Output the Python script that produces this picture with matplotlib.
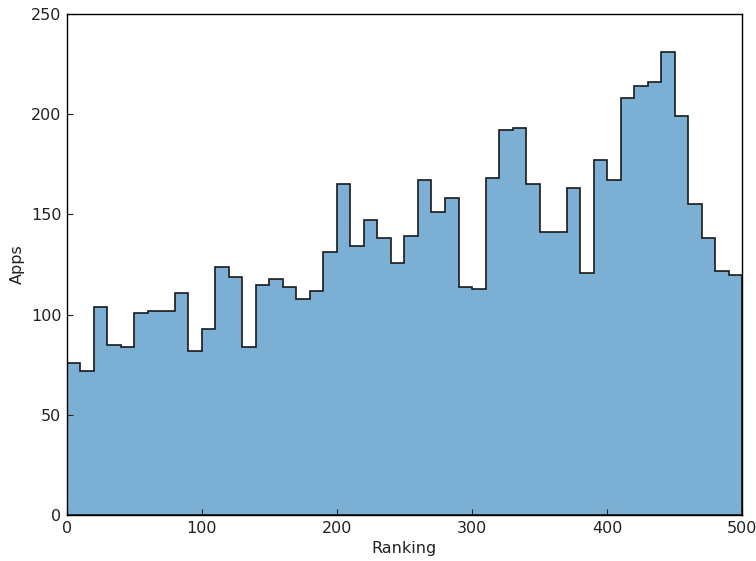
import numpy as np
import matplotlib
matplotlib.use("Agg")
import matplotlib.pyplot as plt

# Number of apps per ranking bucket (width 10, rankings 0-500)
bin_edges = list(range(0, 510, 10))
app_counts = [
    76, 72, 104, 85, 84, 101, 102, 102, 111, 82,
    93, 124, 119, 84, 115, 118, 114, 108, 112, 131,
    165, 134, 147, 138, 126, 139, 167, 151, 158, 114,
    113, 168, 192, 193, 165, 141, 141, 163, 121, 177,
    167, 208, 214, 216, 231, 199, 155, 138, 122, 120,
]
x_ticks = [0, 100, 200, 300, 400, 500]
y_ticks = [0, 50, 100, 150, 200, 250]

fig = plt.figure(figsize=(7.56, 5.61), dpi=100, facecolor="white")
ax = fig.add_axes([0.0886, 0.082, 0.8929, 0.893])

ax.hist(bin_edges[:-1], bins=bin_edges, weights=app_counts,
        histtype="stepfilled", facecolor="#7BAFD4", edgecolor="#1a1a1a",
        linewidth=1.2)

ax.set_xlim(0, 500)
ax.set_ylim(0, 250)
ax.set_xticks(x_ticks)
ax.set_yticks(y_ticks)
ax.tick_params(direction="in", length=4, width=0.8, labelsize=11.5,
               colors="#222222", top=False, right=False, pad=4)
for side in ax.spines.values():
    side.set_linewidth(1.0)
    side.set_color("black")

ax.set_xlabel("Ranking", fontsize=11.5, color="#222222")
ax.set_ylabel("Apps", fontsize=11.5, color="#222222")

fig.savefig("out.png", dpi=100, facecolor="white")
